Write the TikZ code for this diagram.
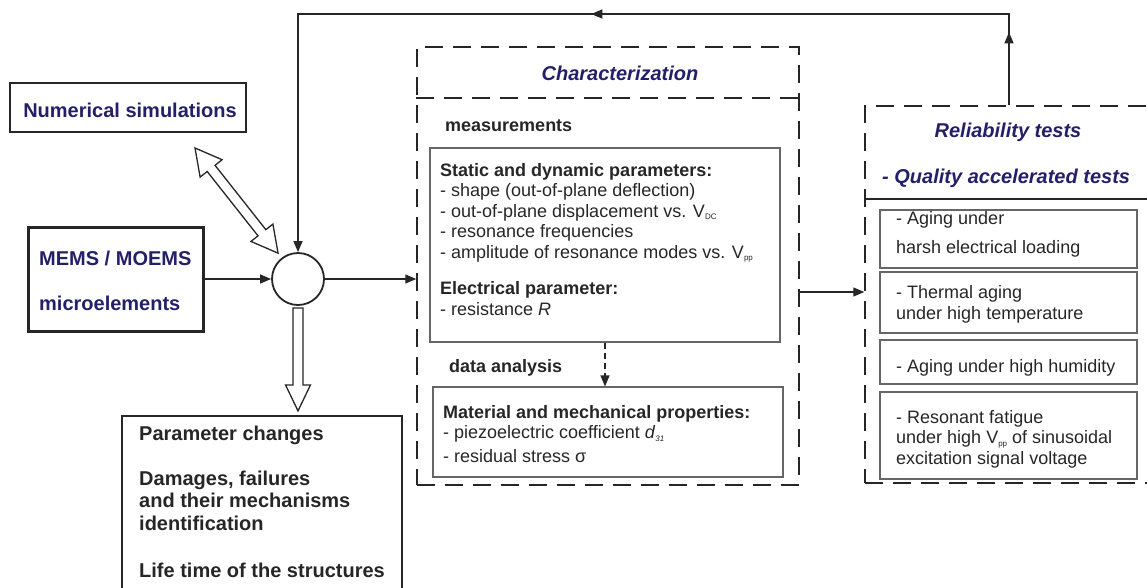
\documentclass[tikz,border=0pt]{standalone}
\usepackage{fontspec}
\setmainfont{Liberation Sans}
\usetikzlibrary{arrows.meta,decorations.markings}

\definecolor{navy}{RGB}{35,31,105}
\definecolor{ink}{RGB}{38,38,38}
\newcommand{\subidx}[1]{\raisebox{-2.5pt}{\fontsize{8}{8}\selectfont #1}}

\begin{document}
\begin{tikzpicture}[x=1pt,y=-1pt,
  arr/.style={-{Triangle[length=11pt,width=9pt]}, line width=1.3pt, draw=ink},
  dashbox/.style={draw=ink, line width=1.5pt, dash pattern=on 18pt off 10pt},
  thinbox/.style={draw=black!60, line width=1.1pt},
  hollow/.style={draw=ink, line width=1.3pt, fill=white, line join=miter},
  head/.style={font=\fontsize{20}{23}\selectfont\bfseries, text=navy, inner sep=0pt},
  headit/.style={head, font=\fontsize{20}{23}\selectfont\bfseries\itshape},
  txt/.style={font=\fontsize{18}{20.5}\selectfont, text=ink, align=left, inner sep=0pt},
  txtb/.style={txt, font=\fontsize{18}{20.5}\selectfont\bfseries},
  big/.style={txt, font=\fontsize{20}{22.5}\selectfont\bfseries},
]
\path[use as bounding box, clip] (0,0) rectangle (1147,587);

% inputs (multi-line texts sit on the baseline of their last line)
\node[draw=ink, line width=1.6pt, minimum width=236, minimum height=49] (numsim) at (128,107.5) {};
\node[head, anchor=base] (numsimtxt) at (130,117) {Numerical simulations};
\node[draw=ink, line width=3pt, minimum width=175, minimum height=104] (mems) at (115.5,279) {};
\node[head, align=left, anchor=base west] (memstxt) at (39,310) {MEMS / MOEMS\\[22pt]microelements};
\node[circle, draw=ink, line width=1.8pt, minimum size=52, inner sep=0pt] (sum) at (298,279) {};

% characterization
\node[dashbox, minimum width=382, minimum height=438] (char) at (608,266) {};
\coordinate (charsplit) at (0,98);
\draw[dashbox] (char.west |- charsplit) -- (char.east |- charsplit);
\node[headit, anchor=base] (chartitle) at (620,80) {Characterization};
\node[txtb, anchor=base west] (measlbl) at (445,131) {measurements};
\node[thinbox, minimum width=350, minimum height=194] (meas) at (605,245) {};
\node[txt, anchor=base west] (statdyn) at (440,258) {\textbf{Static and dynamic parameters:}\\- shape (out-of-plane deflection)\\- out-of-plane displacement vs. V\subidx{DC}\\- resonance frequencies\\- amplitude of resonance modes vs. V\subidx{pp}};
\node[txt, anchor=base west] (elec) at (440,315) {\textbf{Electrical parameter:}\\- resistance \textit{R}};
\node[txtb, anchor=base west] (analysislbl) at (449,372) {data analysis};
\node[thinbox, minimum width=350, minimum height=90] (props) at (608,432) {};
\node[txt, anchor=base west] (propstxt) at (443,462) {\textbf{Material and mechanical properties:}\\- piezoelectric coefficient \textit{d}\subidx{\textit{31}}\\[3pt]- residual stress σ};

% reliability
\node[dashbox, minimum width=288, minimum height=377] (rel) at (1009,294.5) {};
\coordinate (relsplit) at (0,199);
\draw[draw=ink, line width=1.5pt] (rel.west |- relsplit) -- (rel.east |- relsplit);
\node[headit, anchor=base] (reltitle) at (1008,137) {Reliability tests};
\node[headit, anchor=base west] (quality) at (882,183) {- Quality accelerated tests};
\node[thinbox, minimum width=257, minimum height=58] (aging) at (1008.5,239) {};
\node[thinbox, minimum width=257, minimum height=61] (thermal) at (1008.5,302.5) {};
\node[thinbox, minimum width=257, minimum height=44] (humid) at (1008.5,362) {};
\node[thinbox, minimum width=257, minimum height=87] (fatigue) at (1008.5,435.5) {};
\node[txt, anchor=base west] (agingtxt) at (896,253) {- Aging under\\[8pt]harsh electrical loading};
\node[txt, anchor=base west] (thermaltxt) at (896,319) {- Thermal aging\\under high temperature};
\node[txt, anchor=base west] (humidtxt) at (896,372) {- Aging under high humidity};
\node[txt, anchor=base west] (fatiguetxt) at (896,464) {- Resonant fatigue\\under high V\subidx{pp} of sinusoidal\\excitation signal voltage};

% results
\node[draw=ink, line width=1.5pt, minimum width=280, minimum height=220] (result) at (262,526) {};
\node[big, anchor=base west] (changes) at (139,440) {Parameter changes};
\node[big, anchor=base west] (damages) at (139,530) {Damages, failures\\and their mechanisms\\identification};
\node[big, anchor=base west] (lifetime) at (139,577) {Life time of the structures};

% connectors
\draw[arr] (mems) -- (sum);
\draw[arr] (sum) -- (sum -| char.west);
\coordinate (link) at (0,292);
\draw[arr] (char.east |- link) -- (rel.west |- link);
\draw[arr, dash pattern=on 6pt off 4pt] (meas.south) -- (meas.south |- props.north);
\coordinate (back) at (598,14);
\draw[arr, postaction={decorate}, decoration={markings,
    mark=at position 73pt with {\arrow{Triangle[length=11pt,width=9pt]}},
    mark=at position 509pt with {\arrow{Triangle[length=11pt,width=9pt]}}}]
  (rel.north) |- (back) -| (sum.north);

% hollow arrows
\coordinate (simtip) at (195,148);
\begin{scope}[shift={(simtip)}, rotate=-51.7]
  \draw[hollow] (0,0) -- (26,14) -- (26,5) -- (108,5) -- (108,14) -- (134,0)
    -- (108,-14) -- (108,-5) -- (26,-5) -- (26,-14) -- cycle;
\end{scope}
\begin{scope}[shift={(sum.south)}]
  \draw[hollow] (-5,2) -- (-5,79) -- (-12.5,79) -- (0,105) -- (12.5,79) -- (5,79) -- (5,2) -- cycle;
\end{scope}
\end{tikzpicture}
\end{document}
